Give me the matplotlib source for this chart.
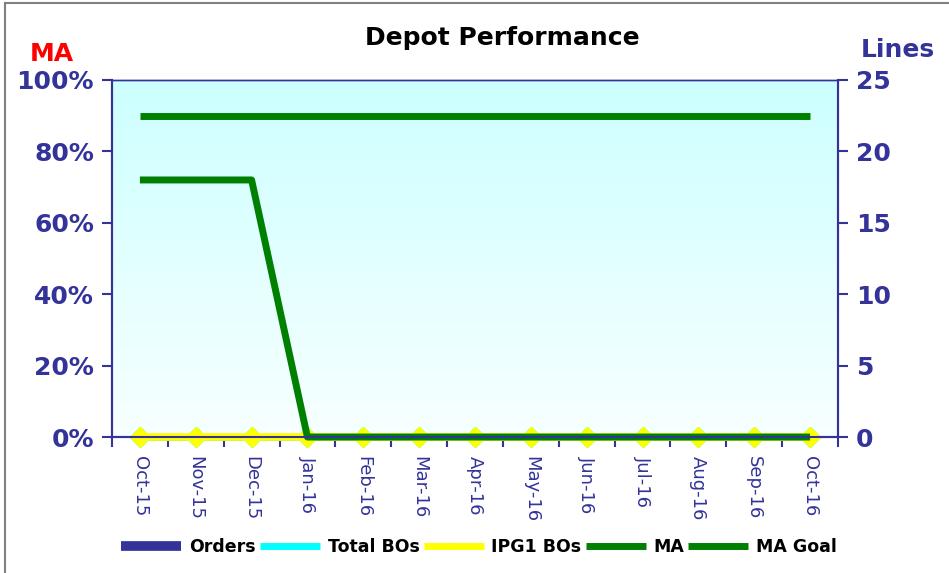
import numpy as np
import matplotlib
matplotlib.use("Agg")
import matplotlib.pyplot as plt
from matplotlib.lines import Line2D
from matplotlib.colors import LinearSegmentedColormap
from matplotlib.ticker import PercentFormatter, MultipleLocator, FixedLocator

# Chart data
months = ["Oct-15", "Nov-15", "Dec-15", "Jan-16", "Feb-16", "Mar-16", "Apr-16",
          "May-16", "Jun-16", "Jul-16", "Aug-16", "Sep-16", "Oct-16"]
orders = [0, 0, 0, 0, 0, 0, 0, 0, 0, 0, 0, 0, 0]
total_bos = [0, 0, 0, 0, 0, 0, 0, 0, 0, 0, 0, 0, 0]
ipg1_bos = [0, 0, 0, 0, 0, 0, 0, 0, 0, 0, 0, 0, 0]
ma = [72, 72, 72, 0, 0, 0, 0, 0, 0, 0, 0, 0, 0]
ma_goal = [90, 90, 90, 90, 90, 90, 90, 90, 90, 90, 90, 90, 90]

navy = "#333399"
green = "#008000"
x = np.arange(len(months))

fig = plt.figure(figsize=(9.49, 5.73), dpi=100)
ax = fig.add_axes([0.118, 0.2373, 0.765, 0.6231])  # Lines axis (right)
ax2 = ax.twinx()                                      # MA axis (left)

# gradient background
grad = np.linspace(0, 1, 256).reshape(-1, 1)
cmap = LinearSegmentedColormap.from_list("bg", ["#f8ffff", "#ccffff"])
ax.imshow(grad, cmap=cmap, aspect="auto", origin="lower",
          extent=[-0.5, 12.5, 0, 25], zorder=0)

# Lines series (right axis)
ax.plot(x, orders, color=navy, lw=5, zorder=2, clip_on=False)
ax.plot(x, total_bos, color="cyan", lw=5, marker="D", ms=10.5, zorder=2,
        clip_on=False)
ax.plot(x, ipg1_bos, color="yellow", lw=5.5, marker="D", ms=10.5,
        markeredgecolor="yellow", zorder=3, clip_on=False)
ax.set_xlim(-0.5, 12.5)
ax.set_ylim(0, 25)
ax.yaxis.tick_right()
ax.yaxis.set_major_locator(MultipleLocator(5))

# MA series (left axis)
ax2.plot(x, ma_goal, color=green, lw=5, solid_capstyle="butt")
ax2.plot(x, ma, color=green, lw=5, solid_capstyle="butt", clip_on=False)
ax2.set_ylim(0, 100)
ax2.yaxis.tick_left()
ax2.yaxis.set_major_locator(MultipleLocator(20))
ax2.yaxis.set_major_formatter(PercentFormatter(decimals=0))

# x ticks: labels at centres, marks at boundaries
ax.set_xticks(x)
ax.set_xticklabels(months, rotation=270, color=navy, fontsize=13)
ax.tick_params(axis="x", which="major", length=0, pad=14)
ax.xaxis.set_minor_locator(FixedLocator(np.arange(-0.5, 13, 1)))
ax.tick_params(axis="x", which="minor", length=7, width=1.5, color=navy,
               direction="out")

for a in (ax, ax2):
    for s in a.spines.values():
        s.set_color(navy)
        s.set_linewidth(1.5)
    a.spines["top"].set_linewidth(1.0)
    a.tick_params(axis="y", length=7, width=1.5, color=navy, labelcolor=navy,
                  labelsize=18, pad=6)
    for lab in a.get_yticklabels():
        lab.set_fontweight("bold")

fig.text(0.529, 0.934, "Depot Performance", ha="center", va="center",
         fontsize=18, fontweight="bold", color="black")
fig.text(0.055, 0.906, "MA", ha="center", va="center", fontsize=18,
         fontweight="bold", color="red")
fig.text(0.946, 0.913, "Lines", ha="center", va="center", fontsize=18,
         fontweight="bold", color=navy)

handles = [
    Line2D([], [], color=navy, lw=7, solid_capstyle="butt"),
    Line2D([], [], color="cyan", lw=5, marker="D", ms=3, solid_capstyle="butt"),
    Line2D([], [], color="yellow", lw=5, marker="D", ms=3, solid_capstyle="butt"),
    Line2D([], [], color=green, lw=5, solid_capstyle="butt"),
    Line2D([], [], color=green, lw=5, solid_capstyle="butt"),
]
labels = ["Orders", "Total BOs", "IPG1 BOs", "MA", "MA Goal"]
fig.legend(handles, labels, loc="center", bbox_to_anchor=(0.505, 0.0454),
           ncol=5, frameon=False, handlelength=3.45, handletextpad=0.46,
           columnspacing=0.23, prop={"weight": "bold", "size": 12.5})

# outer border (top and left visible)
fig.add_artist(Line2D([0.0053, 0.0053], [0, 0.9948], color="#808080", lw=1.5))
fig.add_artist(Line2D([0.0053, 1], [0.9948, 0.9948], color="#808080", lw=1.5))

fig.savefig("out.png", dpi=100)
